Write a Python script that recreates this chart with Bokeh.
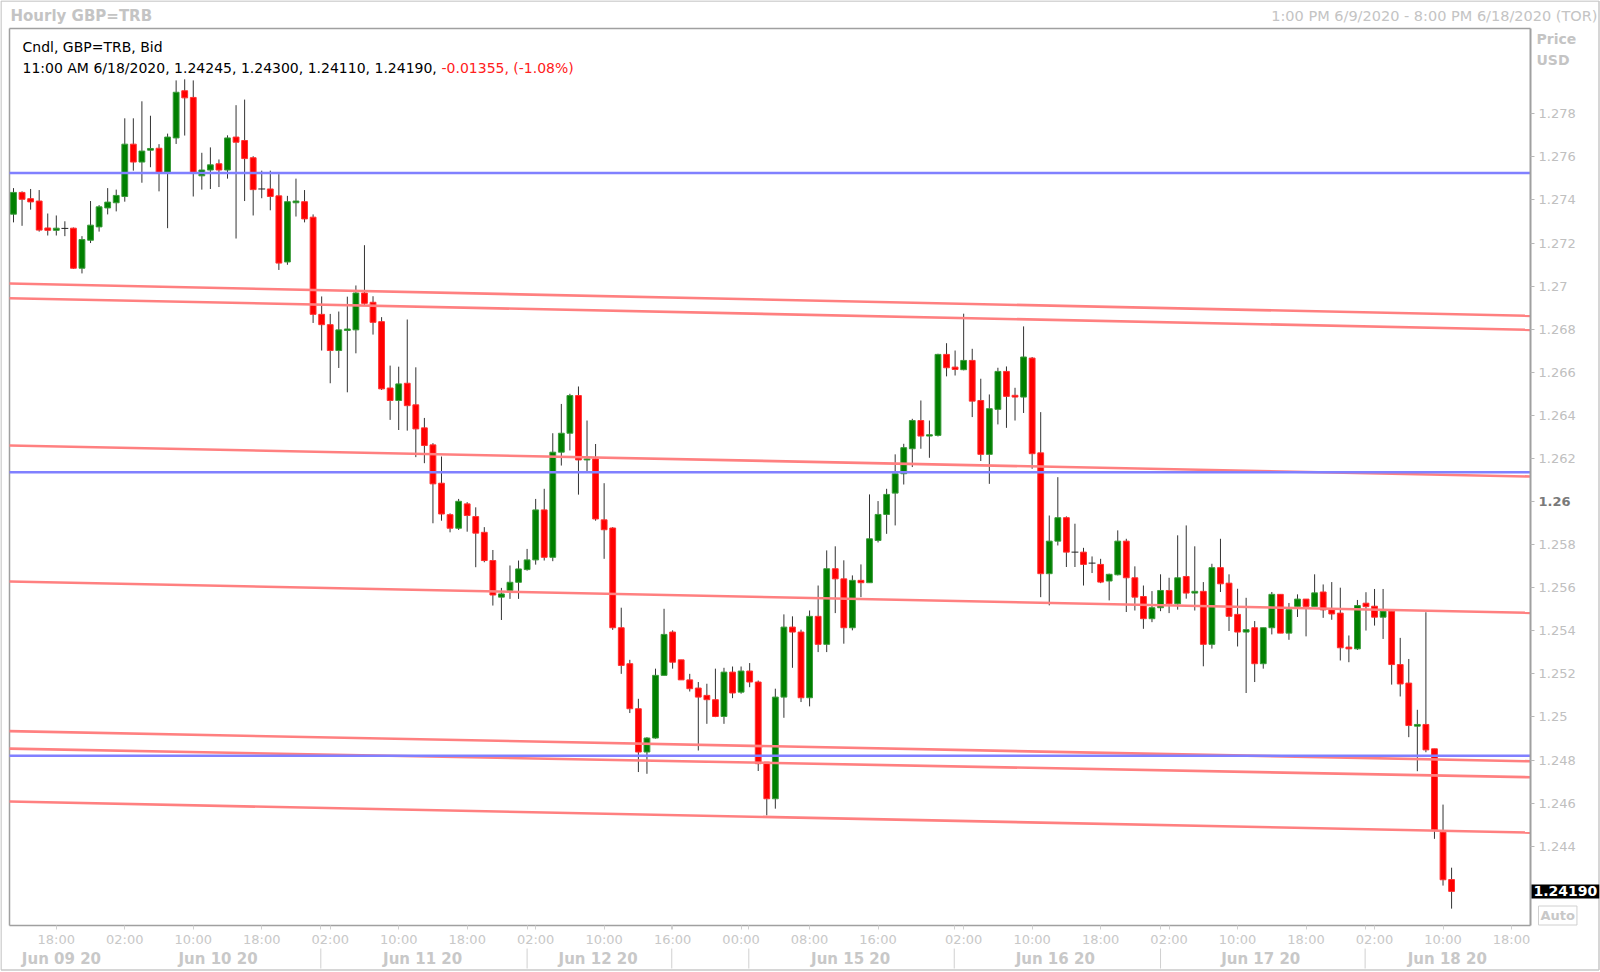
from bokeh.plotting import figure
from bokeh.models import Range1d, LinearAxis, FixedTicker, Label, ColumnDataSource
from bokeh.embed import file_html
from bokeh.resources import INLINE

# ---------------- data (hourly GBP=TRB candles, index 0 = 1:00 PM 6/9/2020) ----------------
open_ = [1.27334, 1.27435, 1.27406, 1.27395, 1.27270, 1.27259, 1.27268, 1.27269, 1.27083, 1.27213,
         1.27275, 1.27363, 1.27387, 1.27416, 1.27659, 1.27576, 1.27631, 1.27640, 1.27528, 1.27688,
         1.27907, 1.27876, 1.27512, 1.27539, 1.27568, 1.27539, 1.27692, 1.27676, 1.27596, 1.27451,
         1.27451, 1.27419, 1.27112, 1.27387, 1.27392, 1.27320, 1.26869, 1.26821, 1.26701, 1.26794,
         1.26797, 1.26968, 1.26925, 1.26835, 1.26527, 1.26469, 1.26549, 1.26449, 1.26342, 1.26263,
         1.26085, 1.25939, 1.25876, 1.25989, 1.25930, 1.25857, 1.25726, 1.25556, 1.25587, 1.25625,
         1.25684, 1.25729, 1.25961, 1.25741, 1.26229, 1.26317, 1.26492, 1.26193, 1.26198, 1.25915,
         1.25877, 1.25414, 1.25247, 1.25038, 1.24837, 1.24902, 1.25193, 1.25394, 1.25265, 1.25172,
         1.25134, 1.25100, 1.25080, 1.25002, 1.25208, 1.25115, 1.25213, 1.25162, 1.24790, 1.24620,
         1.25092, 1.25417, 1.25394, 1.25089, 1.25467, 1.25337, 1.25688, 1.25641, 1.25414, 1.25634,
         1.25623, 1.25819, 1.25940, 1.26039, 1.26129, 1.26245, 1.26376, 1.26304, 1.26307, 1.26683,
         1.26624, 1.26612, 1.26655, 1.26469, 1.26219, 1.26428, 1.26604, 1.26493, 1.26485, 1.26666,
         1.26226, 1.25665, 1.25816, 1.25925, 1.25765, 1.25765, 1.25714, 1.25708, 1.25631, 1.25660,
         1.25816, 1.25646, 1.25559, 1.25456, 1.25507, 1.25587, 1.25525, 1.25652, 1.25575, 1.25583,
         1.25337, 1.25693, 1.25621, 1.25476, 1.25394, 1.25414, 1.25247, 1.25414, 1.25569, 1.25389,
         1.25513, 1.25547, 1.25513, 1.25580, 1.25497, 1.25482, 1.25324, 1.25316, 1.25528, 1.25514,
         1.25463, 1.25491, 1.25243, 1.25157, 1.24957, 1.24965, 1.24852, 1.24465, 1.24245]
high = [1.27455, 1.27440, 1.27451, 1.27446, 1.27337, 1.27328, 1.27301, 1.27272, 1.27232, 1.27395,
        1.27376, 1.27455, 1.27448, 1.27779, 1.27779, 1.27858, 1.27791, 1.27659, 1.27708, 1.27955,
        1.27960, 1.27955, 1.27619, 1.27644, 1.27588, 1.27700, 1.27840, 1.27866, 1.27603, 1.27536,
        1.27536, 1.27520, 1.27419, 1.27499, 1.27446, 1.27333, 1.26952, 1.26871, 1.26882, 1.26951,
        1.27003, 1.27190, 1.26953, 1.26856, 1.26631, 1.26626, 1.26845, 1.26623, 1.26388, 1.26271,
        1.26209, 1.25945, 1.26012, 1.25997, 1.25973, 1.25881, 1.25775, 1.25599, 1.25703, 1.25726,
        1.25780, 1.26012, 1.26059, 1.26317, 1.26453, 1.26500, 1.26534, 1.26376, 1.26267, 1.26085,
        1.25881, 1.25507, 1.25265, 1.25084, 1.24906, 1.25224, 1.25502, 1.25402, 1.25265, 1.25200,
        1.25162, 1.25154, 1.25224, 1.25228, 1.25234, 1.25234, 1.25250, 1.25169, 1.24790, 1.25131,
        1.25476, 1.25467, 1.25405, 1.25494, 1.25610, 1.25773, 1.25792, 1.25727, 1.25657, 1.25708,
        1.26033, 1.26002, 1.26059, 1.26219, 1.26268, 1.26384, 1.26469, 1.26376, 1.26686, 1.26735,
        1.26701, 1.26872, 1.26709, 1.26570, 1.26497, 1.26621, 1.26627, 1.26528, 1.26813, 1.26671,
        1.26415, 1.25935, 1.26113, 1.25931, 1.25897, 1.25785, 1.25745, 1.25734, 1.25665, 1.25866,
        1.25827, 1.25699, 1.25610, 1.25584, 1.25662, 1.25646, 1.25843, 1.25889, 1.25792, 1.25626,
        1.25711, 1.25827, 1.25662, 1.25595, 1.25553, 1.25445, 1.25414, 1.25580, 1.25569, 1.25529,
        1.25569, 1.25547, 1.25662, 1.25615, 1.25626, 1.25600, 1.25378, 1.25543, 1.25579, 1.25594,
        1.25594, 1.25491, 1.25367, 1.25269, 1.25033, 1.25486, 1.24852, 1.24593, 1.24300]
low = [1.27296, 1.27280, 1.27355, 1.27253, 1.27235, 1.27235, 1.27232, 1.27080, 1.27059, 1.27200,
       1.27253, 1.27333, 1.27347, 1.27392, 1.27536, 1.27480, 1.27552, 1.27440, 1.27269, 1.27660,
       1.27699, 1.27416, 1.27448, 1.27451, 1.27460, 1.27499, 1.27221, 1.27395, 1.27328, 1.27408,
       1.27352, 1.27075, 1.27099, 1.27323, 1.27296, 1.26829, 1.26701, 1.26549, 1.26620, 1.26507,
       1.26688, 1.26913, 1.26775, 1.26518, 1.26379, 1.26332, 1.26329, 1.26206, 1.26178, 1.25899,
       1.25911, 1.25857, 1.25868, 1.25860, 1.25695, 1.25718, 1.25517, 1.25450, 1.25548, 1.25548,
       1.25679, 1.25707, 1.25726, 1.25723, 1.26167, 1.26237, 1.26032, 1.26141, 1.25911, 1.25734,
       1.25404, 1.25200, 1.25018, 1.24744, 1.24736, 1.24899, 1.25193, 1.25224, 1.25172, 1.25118,
       1.24844, 1.24968, 1.24999, 1.24968, 1.25087, 1.25108, 1.25138, 1.24749, 1.24543, 1.24574,
       1.24996, 1.25228, 1.25069, 1.25049, 1.25301, 1.25301, 1.25482, 1.25340, 1.25402, 1.25556,
       1.25623, 1.25810, 1.25850, 1.25889, 1.26079, 1.26160, 1.26245, 1.26203, 1.26302, 1.26581,
       1.26585, 1.26609, 1.26392, 1.26188, 1.26082, 1.26358, 1.26342, 1.26376, 1.26411, 1.26152,
       1.25556, 1.25518, 1.25796, 1.25696, 1.25696, 1.25610, 1.25668, 1.25621, 1.25541, 1.25657,
       1.25487, 1.25494, 1.25409, 1.25440, 1.25491, 1.25482, 1.25498, 1.25549, 1.25494, 1.25235,
       1.25317, 1.25580, 1.25399, 1.25327, 1.25111, 1.25162, 1.25224, 1.25383, 1.25389, 1.25358,
       1.25464, 1.25374, 1.25513, 1.25460, 1.25451, 1.25262, 1.25254, 1.25311, 1.25401, 1.25424,
       1.25362, 1.25150, 1.25095, 1.24906, 1.24748, 1.24836, 1.24434, 1.24217, 1.24110]
close = [1.27435, 1.27403, 1.27391, 1.27260, 1.27259, 1.27269, 1.27268, 1.27083, 1.27216, 1.27283,
         1.27368, 1.27390, 1.27421, 1.27659, 1.27576, 1.27627, 1.27639, 1.27528, 1.27692, 1.27900,
         1.27874, 1.27528, 1.27539, 1.27563, 1.27539, 1.27688, 1.27668, 1.27592, 1.27448, 1.27451,
         1.27416, 1.27107, 1.27392, 1.27395, 1.27312, 1.26869, 1.26821, 1.26701, 1.26797, 1.26801,
         1.26968, 1.26920, 1.26832, 1.26523, 1.26469, 1.26546, 1.26445, 1.26337, 1.26260, 1.26082,
         1.25942, 1.25876, 1.26001, 1.25935, 1.25853, 1.25726, 1.25566, 1.25571, 1.25625, 1.25687,
         1.25729, 1.25961, 1.25741, 1.26229, 1.26317, 1.26492, 1.26193, 1.26198, 1.25919, 1.25869,
         1.25414, 1.25239, 1.25038, 1.24837, 1.24902, 1.25193, 1.25383, 1.25254, 1.25172, 1.25131,
         1.25092, 1.25080, 1.25002, 1.25208, 1.25111, 1.25213, 1.25162, 1.24783, 1.24620, 1.25092,
         1.25417, 1.25394, 1.25089, 1.25467, 1.25337, 1.25688, 1.25641, 1.25414, 1.25634, 1.25623,
         1.25827, 1.25940, 1.26033, 1.26129, 1.26250, 1.26376, 1.26304, 1.26310, 1.26683, 1.26621,
         1.26613, 1.26655, 1.26466, 1.26219, 1.26431, 1.26604, 1.26488, 1.26485, 1.26671, 1.26222,
         1.25665, 1.25816, 1.25925, 1.25765, 1.25765, 1.25708, 1.25714, 1.25626, 1.25662, 1.25816,
         1.25646, 1.25556, 1.25456, 1.25507, 1.25587, 1.25525, 1.25646, 1.25575, 1.25583, 1.25337,
         1.25693, 1.25618, 1.25467, 1.25394, 1.25405, 1.25247, 1.25414, 1.25569, 1.25389, 1.25498,
         1.25547, 1.25513, 1.25576, 1.25497, 1.25478, 1.25321, 1.25316, 1.25517, 1.25512, 1.25463,
         1.25491, 1.25243, 1.25153, 1.24960, 1.24965, 1.24847, 1.24476, 1.24244, 1.24190]

# drawn reference lines
blue_levels = [1.27525, 1.26136, 1.24820]
red_start = [1.27012, 1.26944, 1.26260, 1.25629, 1.24934, 1.24853, 1.24607]
red_end = [1.26862, 1.26797, 1.26116, 1.25483, 1.24794, 1.24720, 1.24463]

# axes
price_ticks = [1.244, 1.246, 1.248, 1.25, 1.252, 1.254, 1.256, 1.258, 1.26, 1.262,
               1.264, 1.266, 1.268, 1.27, 1.272, 1.274, 1.276, 1.278]
price_labels = ["1.244", "1.246", "1.248", "1.25", "1.252", "1.254", "1.256", "1.258", "", "1.262",
                "1.264", "1.266", "1.268", "1.27", "1.272", "1.274", "1.276", "1.278"]
time_ticks = [5, 13, 21, 29, 37, 45, 53, 61, 69, 77, 85, 93, 101, 111, 119, 127, 135, 143, 151, 159, 167, 175]
time_labels = ["18:00", "02:00", "10:00", "18:00", "02:00", "10:00", "18:00", "02:00", "10:00", "16:00", "00:00",
               "08:00", "16:00", "02:00", "10:00", "18:00", "02:00", "10:00", "18:00", "02:00", "10:00", "18:00"]
day_ticks = [5.6, 23.9, 47.8, 68.3, 97.8, 121.7, 145.7, 167.5]
day_labels = ["Jun 09 20", "Jun 10 20", "Jun 11 20", "Jun 12 20", "Jun 15 20", "Jun 16 20", "Jun 17 20", "Jun 18 20"]
day_breaks = [35.9, 60.0, 76.9, 85.9, 109.9, 134.0, 157.9]

# ---------------- layout: the frame is the whole canvas; pixel <-> data calibration ----------------
W, H = 1600, 972


def px_x(px):
    return (px - 13) / 8.56


def px_y(py):
    return 1.278 - (py - 113.3) / 21540.0


PL, PR, PT, PB = 9, 1530, 28, 925  # inner chart box (pixels)

p = figure(width=W, height=H, x_range=Range1d(px_x(0), px_x(W)), y_range=Range1d(px_y(H), px_y(0)),
           output_backend="svg", toolbar_location=None,
           x_axis_location=None, y_axis_location=None,
           min_border=0, min_border_left=0, min_border_right=0, min_border_top=0, min_border_bottom=0)
p.grid.visible = False
p.outline_line_color = None
p.background_fill_color = "white"
p.border_fill_color = "white"

FONT = "DejaVu Sans"
LIGHT = "#c0c0c0"
FRAME = "#a0a0a0"

# outer border and chart box (top / left edges)
p.segment(x0=[px_x(0.5), px_x(0.5), px_x(1598.5), px_x(0.5)],
          y0=[px_y(0.5), px_y(0.5), px_y(0.5), px_y(969.5)],
          x1=[px_x(1598.5), px_x(0.5), px_x(1598.5), px_x(1598.5)],
          y1=[px_y(0.5), px_y(969.5), px_y(969.5), px_y(969.5)],
          line_color="#c8c8c8", line_width=1.5)
p.segment(x0=[px_x(PL), px_x(PL)], y0=[px_y(PT), px_y(PT)],
          x1=[px_x(PR), px_x(PL)], y1=[px_y(PT), px_y(PB)],
          line_color=FRAME, line_width=1.5)

# right price axis (fixed at the chart box's right edge)
yax = LinearAxis(ticker=FixedTicker(ticks=price_ticks, minor_ticks=[]),
                 fixed_location=px_x(PR), bounds=(px_y(PB), px_y(PT)))
yax.major_label_overrides = {t: l for t, l in zip(price_ticks, price_labels)}
yax.axis_line_color = FRAME
yax.axis_line_width = 2
yax.major_tick_in = 0
yax.major_tick_out = 4
yax.major_tick_line_color = "#b8b8b8"
yax.minor_tick_line_color = None
yax.major_label_standoff = 4
yax.major_label_text_font = FONT
yax.major_label_text_font_size = "13px"
yax.major_label_text_color = LIGHT
p.add_layout(yax, "right")

# time axis (chart box bottom edge); short marks also at the day separators
xax = LinearAxis(ticker=FixedTicker(ticks=time_ticks, minor_ticks=day_breaks),
                 fixed_location=px_y(PB), bounds=(px_x(PL), px_x(PR)))
xax.major_label_overrides = {t: l for t, l in zip(time_ticks, time_labels)}
xax.axis_line_color = FRAME
xax.axis_line_width = 1.5
xax.major_tick_in = 0
xax.major_tick_out = 4
xax.minor_tick_in = 0
xax.minor_tick_out = 4
xax.major_tick_line_color = "#d0d0d0"
xax.minor_tick_line_color = "#d0d0d0"
xax.major_label_standoff = 2
xax.major_label_text_font = FONT
xax.major_label_text_font_size = "13px"
xax.major_label_text_color = "#c8c8c8"
p.add_layout(xax, "below")

# day separators in the date row
p.segment(x0=day_breaks, y0=[px_y(948)] * len(day_breaks), x1=day_breaks, y1=[px_y(968)] * len(day_breaks),
          line_color="#d0d0d0", line_width=1)

# ---------------- candles ----------------
n = len(close)
idx = list(range(n))
up = [c > o for o, c in zip(open_, close)]
down = [c < o for o, c in zip(open_, close)]
flat = [c == o for o, c in zip(open_, close)]

p.segment(x0=idx, y0=low, x1=idx, y1=high, line_color="#333333", line_width=1)


def body_src(mask):
    xs = [i for i in idx if mask[i]]
    tops = [max(open_[i], close[i]) for i in xs]
    bots = [min(open_[i], close[i]) for i in xs]
    return ColumnDataSource(dict(x=xs, top=tops, bottom=bots))


p.vbar(x="x", top="top", bottom="bottom", width=0.68, source=body_src(up),
       fill_color="#008000", line_color="#3a9a3a", line_width=1)
p.vbar(x="x", top="top", bottom="bottom", width=0.68, source=body_src(down),
       fill_color="#ff0000", line_color="#ff3030", line_width=1)
fx = [i for i in idx if flat[i]]
p.segment(x0=[i - 0.4 for i in fx], y0=[open_[i] for i in fx],
          x1=[i + 0.4 for i in fx], y1=[open_[i] for i in fx], line_color="#222222", line_width=1)

# ---------------- drawn lines ----------------
p.segment(x0=[px_x(PL)] * len(red_start), y0=red_start, x1=[px_x(PR)] * len(red_end), y1=red_end,
          line_color="#ff8080", line_width=2.6)
p.segment(x0=[px_x(PL)] * len(blue_levels), y0=blue_levels, x1=[px_x(PR)] * len(blue_levels),
          y1=blue_levels, line_color="#8080ff", line_width=2.6)


# ---------------- texts ----------------
def add_label(x, y, text, size="14px", color="#000000", style="normal", align="left", pad=None, **kw):
    lab = Label(x=x, y=y, text=text, text_font=FONT, text_font_size=size, text_color=color,
                text_font_style=style, text_align=align, text_baseline="middle", **kw)
    if pad is not None:
        try:
            lab.padding = pad
        except Exception:
            pass
    p.add_layout(lab)
    return lab


add_label(px_x(10), px_y(15), "Hourly GBP=TRB", size="15px", color="#c4c4c4", style="bold")
add_label(px_x(1597), px_y(15), "1:00 PM 6/9/2020 - 8:00 PM 6/18/2020 (TOR)", size="14.5px",
          color="#c4c4c4", align="right")
add_label(px_x(22), px_y(46), "Cndl, GBP=TRB, Bid", size="14px")
add_label(px_x(22), px_y(67), "11:00 AM 6/18/2020, 1.24245, 1.24300, 1.24110, 1.24190,", size="14px")
add_label(px_x(441), px_y(67), "-0.01355, (-1.08%)", size="14px", color="#ff2020")
add_label(px_x(1536), px_y(38), "Price", size="14px", color="#c4c4c4", style="bold")
add_label(px_x(1536), px_y(59), "USD", size="14px", color="#c4c4c4", style="bold")
add_label(px_x(1538), 1.26, "1.26", size="13px", color="#7a7a7a", style="bold")
for dx, dl in zip(day_ticks, day_labels):
    add_label(dx, px_y(958), dl, size="15px", color="#c8c8c8", style="bold", align="center")
add_label(px_x(1538), px_y(915), "Auto", size="13px", color="#c8c8c8", style="bold",
          border_line_color="#d0d0d0", background_fill_color="#ffffff", pad=2)
add_label(px_x(1531), close[-1], "1.24190", size="14px", color="#ffffff", style="bold",
          background_fill_color="#000000", pad=2)

open("out.html", "w").write(file_html(p, INLINE))
